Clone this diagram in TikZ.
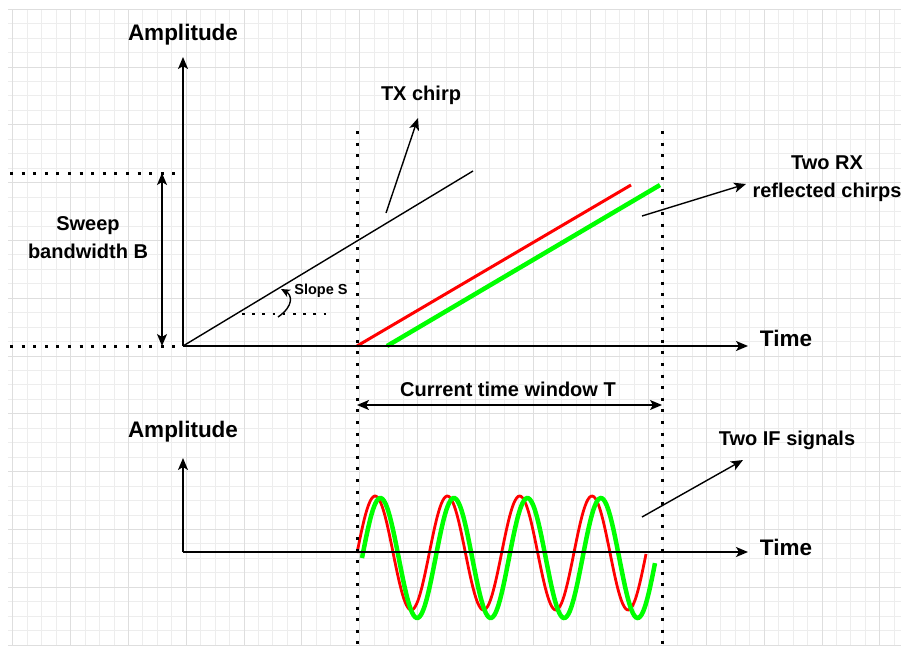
\documentclass[tikz,border=0pt]{standalone}
\usepackage{fontspec}
\setmainfont{Liberation Sans}
\usetikzlibrary{arrows.meta}

\definecolor{chirpred}{RGB}{255,0,0}
\definecolor{chirpgreen}{RGB}{0,255,0}

\begin{document}
\begin{tikzpicture}[x=1pt,y=-1pt,>={Stealth[length=12pt,width=10pt,inset=3pt]},
        axis/.style={->,line width=1.6pt},
        pointer/.style={->,line width=1.4pt},
        dotline/.style={line width=3pt,dash pattern=on 3pt off 8.6pt},
        biglbl/.style={font=\bfseries\fontsize{22.5}{26}\selectfont},
        lbl/.style={font=\bfseries\fontsize{20}{28}\selectfont,align=center},
        smalllbl/.style={font=\bfseries\fontsize{14.5}{17}\selectfont}]
    \useasboundingbox (0,0) rectangle (901,646);
    % background grid
    \begin{scope}
        \clip (8,9.2) rectangle (901,646);
        \foreach \i in {0,...,61}
            \draw[black!7,line width=0.9pt] ({12.8+14.45*\i},9.2) -- ({12.8+14.45*\i},646);
        \foreach \j in {0,...,44}
            \draw[black!7,line width=0.9pt] (8,{9.2+14.45*\j}) -- (901,{9.2+14.45*\j});
        \foreach \i in {0,...,15}
            \draw[black!13,line width=1pt] ({12.8+57.8*\i},9.2) -- ({12.8+57.8*\i},646);
        \foreach \j in {0,...,11}
            \draw[black!13,line width=1pt] (8,{9.2+57.8*\j}) -- (901,{9.2+57.8*\j});
    \end{scope}

    % upper plot: chirps
    \coordinate (o1) at (183,346);
    \coordinate (y1) at (183,57);
    \coordinate (x1) at (748,346);
    \node[biglbl] (amp1) at (183,35) {Amplitude};
    \node[biglbl] (time1) at (786,338) {Time};
    \coordinate (txend) at (473,171);
    \coordinate (rxa) at (357,346);
    \coordinate (rxb) at (631,185);
    \coordinate (rxc) at (387,346);
    \coordinate (rxd) at (660,185);
    \draw[line width=1.4pt] (o1) -- (txend);
    \draw[chirpred,line width=3pt] (rxa) -- (rxb);
    \draw[chirpgreen,line width=4.5pt] (rxc) -- (rxd);
    \draw[axis] (o1) -- (y1);
    \draw[axis] (o1) -- (x1);

    % bandwidth
    \coordinate (bwtop) at (162,173);
    \coordinate (bwbot) at (162,346);
    \draw[dotline] (10,173) -- (180,173);
    \draw[dotline] (10,346) -- (176,346);
    \draw[<->,line width=1.4pt] (bwtop) -- (bwbot);
    \node[lbl] (bw) at (88,238) {Sweep\\bandwidth B};

    % slope
    \coordinate (sl1) at (278,317);
    \coordinate (sl2) at (281,289);
    \draw[line width=2.6pt,dash pattern=on 2.6pt off 7.6pt] (242,314) -- (330,314);
    \draw[-{Stealth[length=9pt,width=8pt,inset=2.5pt]},line width=1.4pt] (sl1) .. controls (294,306) and (292,295) .. (sl2);
    \node[smalllbl] (slope) at (321,291) {Slope S};

    % annotations
    \node[lbl] (tx) at (421,95) {TX chirp};
    \coordinate (txa) at (386,213);
    \coordinate (txb) at (418,118);
    \draw[pointer] (txa) -- (txb);
    \node[lbl] (rx) at (827,179) {Two RX\\reflected chirps};
    \coordinate (rxs) at (642,216);
    \coordinate (rxt) at (746,184);
    \draw[pointer] (rxs) -- (rxt);

    % time window
    \coordinate (wl) at (357,405);
    \coordinate (wr) at (662,405);
    \node[lbl] (win) at (508,389) {Current time window T};
    \draw[<->,line width=1.4pt] (wl) -- (wr);

    % lower plot: IF signals
    \draw[chirpred,line width=2.8pt] plot[domain=357:646,samples=200,smooth] (\x,{553-57*sin((\x-357)*4.9793)});
    \draw[chirpgreen,line width=4.5pt] plot[domain=362:655,samples=200,smooth] (\x,{558-60*sin((\x-362)*4.898)});
    \coordinate (o2) at (183,552);
    \coordinate (y2) at (183,458);
    \coordinate (x2) at (748,552);
    \node[biglbl] (amp2) at (183,432) {Amplitude};
    \node[biglbl] (time2) at (786,547) {Time};
    \draw[axis] (o2) -- (y2);
    \draw[axis] (o2) -- (x2);
    \node[lbl] (ifs) at (787,440) {Two IF signals};
    \coordinate (ifa) at (642,517);
    \coordinate (ifb) at (743,460);
    \draw[pointer] (ifa) -- (ifb);

    % window borders
    \draw[dotline] (357,131) -- (357,646);
    \draw[dotline] (662,131) -- (662,646);
\end{tikzpicture}
\end{document}
